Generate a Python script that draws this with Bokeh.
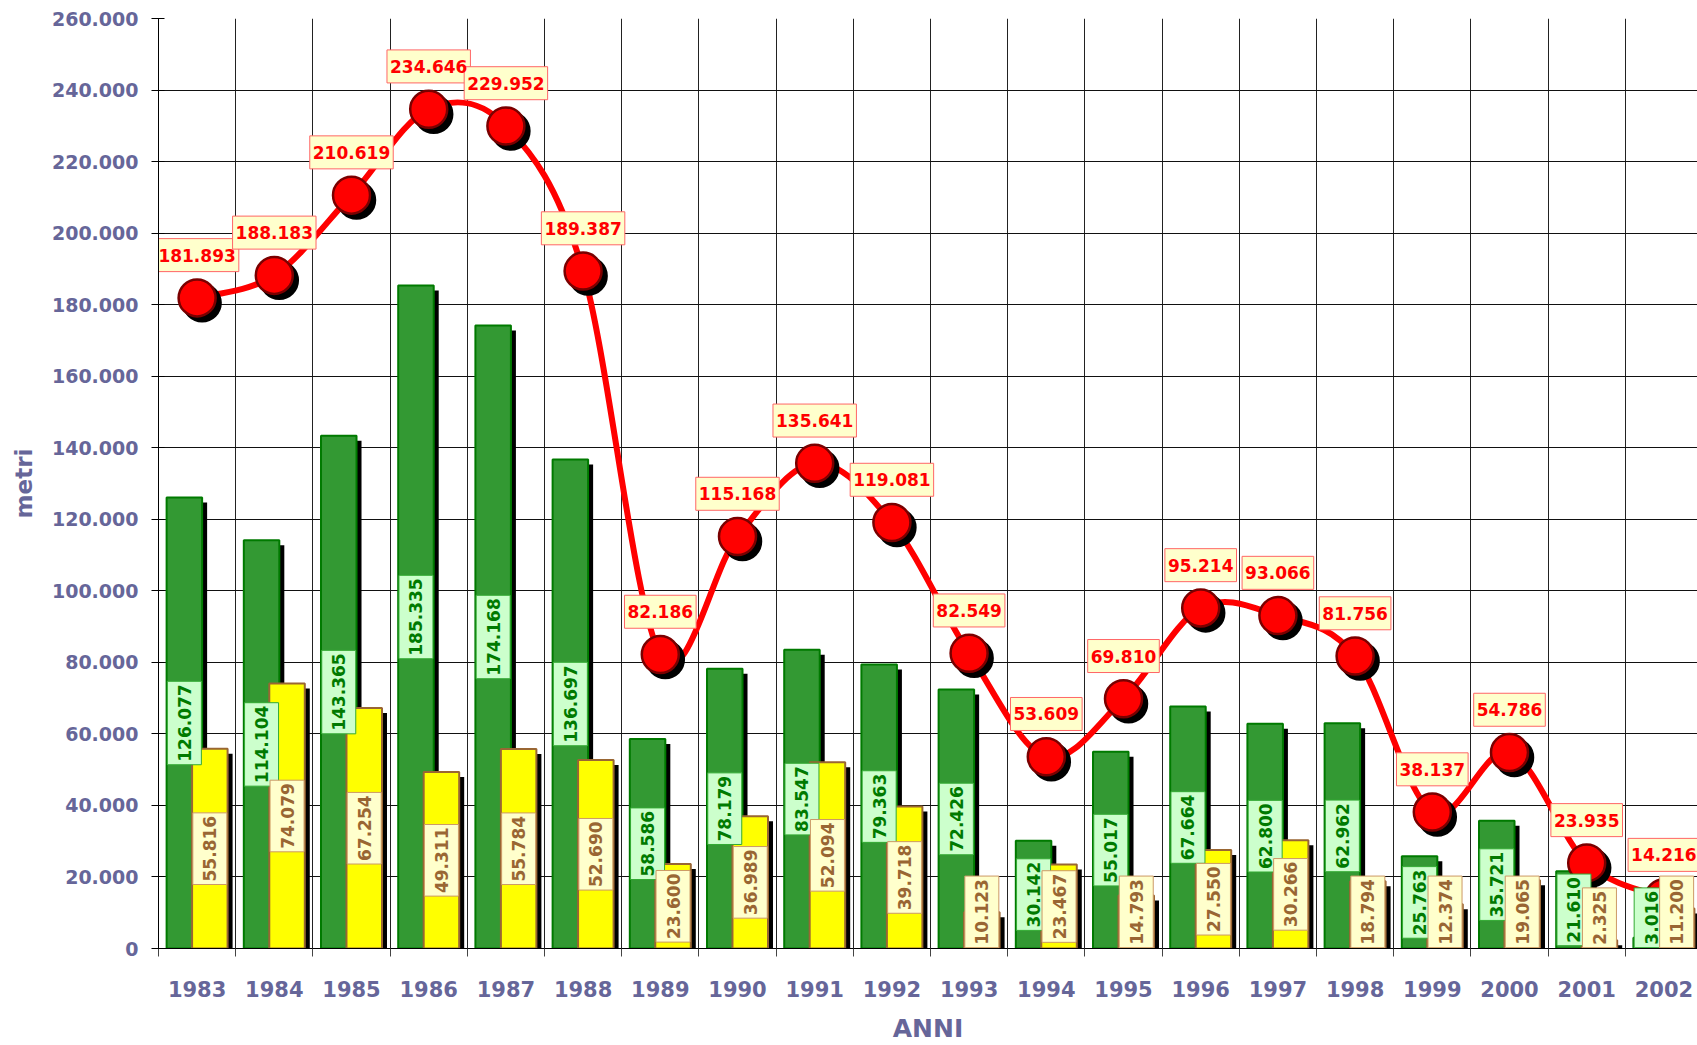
import math
from bokeh.plotting import figure
from bokeh.models import FixedTicker, Range1d
from bokeh.embed import file_html
from bokeh.resources import INLINE
from bokeh.core.properties import value

# ---------------- data ----------------
years = ["1983", "1984", "1985", "1986", "1987", "1988", "1989", "1990", "1991", "1992",
         "1993", "1994", "1995", "1996", "1997", "1998", "1999", "2000", "2001", "2002"]
green_vals = [126077, 114104, 143365, 185335, 174168, 136697, 58586, 78179, 83547, 79363,
              72426, 30142, 55017, 67664, 62800, 62962, 25763, 35721, 21610, 3016]
yellow_vals = [55816, 74079, 67254, 49311, 55784, 52690, 23600, 36989, 52094, 39718,
               10123, 23467, 14793, 27550, 30266, 18794, 12374, 19065, 2325, 11200]
total_vals = [181893, 188183, 210619, 234646, 229952, 189387, 82186, 115168, 135641, 119081,
              82549, 53609, 69810, 95214, 93066, 81756, 38137, 54786, 23935, 14216]
y_ticks = [0, 20000, 40000, 60000, 80000, 100000, 120000, 140000, 160000, 180000,
           200000, 220000, 240000, 260000]
y_tick_labels = ["0", "20.000", "40.000", "60.000", "80.000", "100.000", "120.000", "140.000",
                 "160.000", "180.000", "200.000", "220.000", "240.000", "260.000"]
y_title = "metri"
x_title = "ANNI"

# ---------------- geometry ----------------
W, H = 1697, 1045
BL, BT, BB, BR = 158, 18, 92, 0
CAT_PX = 77.2
Y_MAX = 260000
FRAME_W = W - BL - BR
FRAME_H = H - BT - BB
PX_PER_Y = FRAME_H / Y_MAX


def dy(px):
    return px / PX_PER_Y


def dx(px):
    return px / CAT_PX


def fmt(v):
    return f"{v:,}".replace(",", ".")


n = len(years)
xs = list(range(n))
FONT = value("DejaVu Sans")
AX_COL = "#666699"

p = figure(width=W, height=H, output_backend="svg", toolbar_location=None,
           x_range=Range1d(-0.5, -0.5 + FRAME_W / CAT_PX), y_range=Range1d(0, Y_MAX),
           min_border_left=BL, min_border_right=BR, min_border_top=BT, min_border_bottom=BB)
p.outline_line_color = None
p.background_fill_color = "white"

# grids
p.xgrid.ticker = FixedTicker(ticks=[i - 0.5 for i in range(n + 1)])
p.xgrid.grid_line_color = "#222222"
p.xgrid.grid_line_width = 1
p.ygrid.ticker = FixedTicker(ticks=y_ticks)
p.ygrid.grid_line_color = "#111111"
p.ygrid.grid_line_width = 1

# y axis
p.yaxis.ticker = FixedTicker(ticks=y_ticks)
p.yaxis.major_label_overrides = {t: l for t, l in zip(y_ticks, y_tick_labels)}
p.yaxis.minor_tick_line_color = None
p.yaxis.major_tick_in = 6
p.yaxis.major_tick_out = 7
p.yaxis.major_label_standoff = 13
p.yaxis.major_label_text_font = "DejaVu Sans"
p.yaxis.major_label_text_font_style = "bold"
p.yaxis.major_label_text_font_size = "19px"
p.yaxis.major_label_text_color = AX_COL
p.yaxis.axis_line_color = "black"
p.yaxis.axis_label = y_title
p.yaxis.axis_label_text_font = "DejaVu Sans"
p.yaxis.axis_label_text_font_style = "bold"
p.yaxis.axis_label_text_font_size = "23px"
p.yaxis.axis_label_text_color = AX_COL
p.yaxis.axis_label_standoff = 12

# x axis
p.xaxis.ticker = FixedTicker(ticks=xs, minor_ticks=[i - 0.5 for i in range(n + 1)])
p.xaxis.major_label_overrides = {i: y for i, y in enumerate(years)}
p.xaxis.major_tick_in = 0
p.xaxis.major_tick_out = 0
p.xaxis.minor_tick_in = 0
p.xaxis.minor_tick_out = 8
p.xaxis.minor_tick_line_color = "#444444"
p.xaxis.major_label_standoff = 24
p.xaxis.major_label_text_font = "DejaVu Sans"
p.xaxis.major_label_text_font_style = "bold"
p.xaxis.major_label_text_font_size = "21px"
p.xaxis.major_label_text_color = AX_COL
p.xaxis.axis_line_color = "black"
p.xaxis.axis_label = x_title
p.xaxis.axis_label_text_font = "DejaVu Sans"
p.xaxis.axis_label_text_font_style = "bold"
p.xaxis.axis_label_text_font_size = "25px"
p.xaxis.axis_label_text_color = AX_COL
p.xaxis.axis_label_standoff = 14

# ---------------- bars ----------------
BW = 0.46
OFF = 0.165
SH = 5
xg = [x - OFF for x in xs]
xy = [x + OFF for x in xs]

p.vbar(x=[x + dx(SH) for x in xg], bottom=0, top=[max(v - dy(SH), 0) for v in green_vals],
       width=BW, fill_color="black", line_color=None)
p.vbar(x=xg, bottom=0, top=green_vals, width=BW, fill_color="#339933",
       line_color="#007a00", line_width=2)
p.vbar(x=[x + dx(SH) for x in xy], bottom=0, top=[max(v - dy(SH), 0) for v in yellow_vals],
       width=BW, fill_color="black", line_color=None)
p.vbar(x=xy, bottom=0, top=yellow_vals, width=BW, fill_color="#FFFF00",
       line_color="#996633", line_width=2)

# ---------------- smooth line ----------------
pts = list(zip(xs, total_vals))
x0, y0, x1, y1, cx0, cy0, cx1, cy1 = [], [], [], [], [], [], [], []
for i in range(n - 1):
    pm = pts[max(i - 1, 0)]
    pa = pts[i]
    pb = pts[i + 1]
    pn = pts[min(i + 2, n - 1)]
    x0.append(pa[0]); y0.append(pa[1])
    x1.append(pb[0]); y1.append(pb[1])
    cx0.append(pa[0] + (pb[0] - pm[0]) / 6); cy0.append(pa[1] + (pb[1] - pm[1]) / 6)
    cx1.append(pb[0] - (pn[0] - pa[0]) / 6); cy1.append(pb[1] - (pn[1] - pa[1]) / 6)
p.bezier(x0=x0, y0=y0, x1=x1, y1=y1, cx0=cx0, cy0=cy0, cx1=cx1, cy1=cy1,
         line_color="#FF0000", line_width=6, line_cap="round")

# markers with shadow
p.scatter(x=[x + dx(5) for x in xs], y=[v - dy(5) for v in total_vals], size=37,
          fill_color="black", line_color="black", line_width=2.5)
p.scatter(x=xs, y=total_vals, size=37, fill_color="#FF0000", line_color="#7a0000",
          line_width=2.5)

# ---------------- labels ----------------
BFS = 17      # bar label font px
RFS = 17      # red label font px


def text_len_px(s, fs):
    return sum(0.38 * fs if c == "." else 0.696 * fs for c in s)


def bar_label_y(v, s):
    half_box = (text_len_px(s, BFS) + 6) / 2 + 1
    return max(v / 2, dy(half_box))


g_txt = [fmt(v) for v in green_vals]
y_txt = [fmt(v) for v in yellow_vals]
t_txt = [fmt(v) for v in total_vals]

gy = [bar_label_y(v, s) for v, s in zip(green_vals, g_txt)]
yy = [bar_label_y(v, s) for v, s in zip(yellow_vals, y_txt)]
ty = [v + dy(43) for v in total_vals]

# label boxes (screen-sized rectangles)
p.rect(x=xg, y=gy, width=34, height=[text_len_px(s, BFS) + 6 for s in g_txt],
       width_units="screen", height_units="screen",
       fill_color="#CCFFCC", line_color="#33aa33", line_width=1)
p.rect(x=xy, y=yy, width=34, height=[text_len_px(s, BFS) + 6 for s in y_txt],
       width_units="screen", height_units="screen",
       fill_color="#FFFFCC", line_color="#cc9966", line_width=1)
p.rect(x=xs, y=ty, width=[text_len_px(s, RFS) + 6 for s in t_txt], height=33,
       width_units="screen", height_units="screen",
       fill_color="#FFFFCC", line_color="#ff6666", line_width=1)

p.text(x=xg, y=gy, text=g_txt,
       angle=math.pi / 2, text_align="center", text_baseline="middle",
       text_font=FONT, text_font_style="bold", text_font_size=value(f"{BFS}px"),
       text_color="#007a00")
p.text(x=xy, y=yy, text=y_txt,
       angle=math.pi / 2, text_align="center", text_baseline="middle",
       text_font=FONT, text_font_style="bold", text_font_size=value(f"{BFS}px"),
       text_color="#996633")
p.text(x=xs, y=ty, text=t_txt,
       text_align="center", text_baseline="middle",
       text_font=FONT, text_font_style="bold", text_font_size=value(f"{RFS}px"),
       text_color="#FF0000")

open("out.html", "w").write(file_html(p, INLINE))
